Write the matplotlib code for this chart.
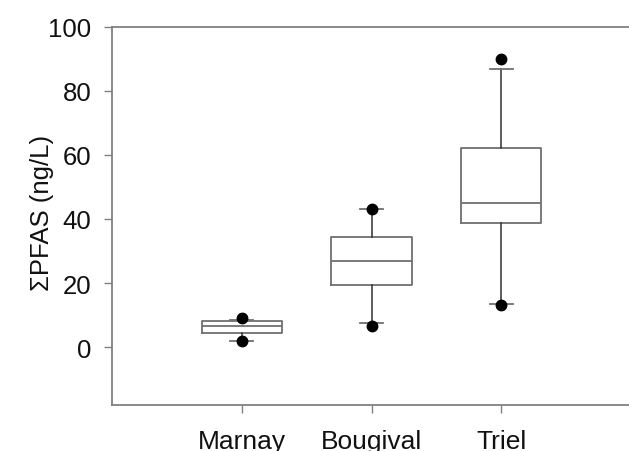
import matplotlib.pyplot as plt

plt.rcParams['font.family'] = ['Liberation Sans', 'DejaVu Sans']

# data
sites = ["Marnay", "Bougival", "Triel"]
q1 = [4.6, 19.3, 38.7]
median = [6.5, 26.9, 45.0]
q3 = [8.2, 34.5, 62.1]
whisker_low = [2.0, 7.5, 13.4]
whisker_high = [8.4, 43.1, 86.6]
outliers = [[2.0, 9.0], [6.6, 43.1], [13.1, 89.9]]

stats = []
for i, name in enumerate(sites):
    stats.append({
        "label": name,
        "q1": q1[i], "med": median[i], "q3": q3[i],
        "whislo": whisker_low[i], "whishi": whisker_high[i],
        "fliers": outliers[i],
    })

fig = plt.figure(figsize=(6.29, 4.52), dpi=100)
ax = fig.add_axes([112 / 629, 1 - 406 / 452, 519 / 629, (406 - 27.5) / 452])

edge = "#707070"
ax.bxp(stats, positions=[1, 2, 3], widths=0.62, showfliers=True,
       boxprops=dict(color=edge, linewidth=1.3),
       medianprops=dict(color=edge, linewidth=1.3),
       whiskerprops=dict(color="#303030", linewidth=1.1),
       capprops=dict(color=edge, linewidth=1.3),
       capwidths=0.18,
       flierprops=dict(marker="o", markerfacecolor="black", markeredgecolor="black",
                       markersize=7.5, linestyle="none"))

ax.set_xlim(0, 4)
ax.set_ylim(-18, 100)
ax.set_yticks([0, 20, 40, 60, 80, 100])
ax.set_xticks([1, 2, 3])
ax.set_xticklabels(sites)

for s in ax.spines.values():
    s.set_color("#808080")
    s.set_linewidth(1.3)

ax.tick_params(axis="both", direction="out", color="#808080", width=1.0,
               length=6, labelcolor="#111111")
ax.tick_params(axis="y", labelsize=18.5, pad=9)
ax.tick_params(axis="x", labelsize=19, pad=11)
ax.set_ylabel("\u03a3PFAS (ng/L)", fontsize=18.5, color="#111111")
ax.yaxis.set_label_coords(-58 / 519, 0.51)

fig.savefig("out.png", dpi=100)
